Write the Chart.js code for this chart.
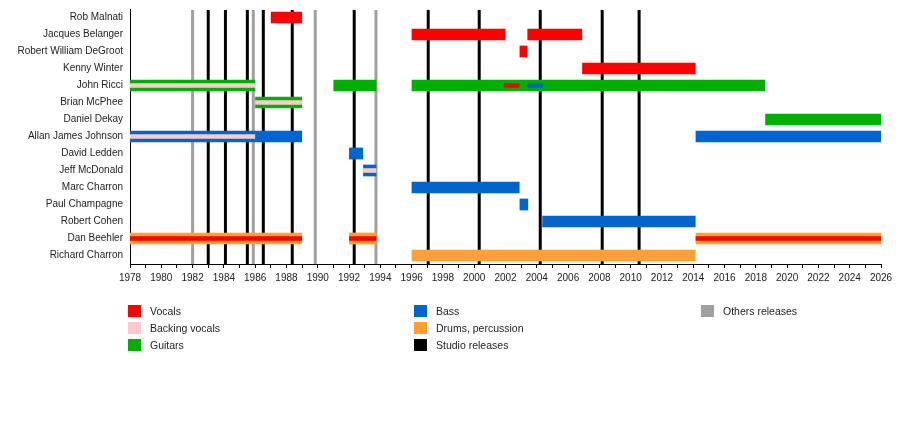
<!DOCTYPE html>
<html>
<head>
<meta charset="utf-8">
<script src="https://cdn.jsdelivr.net/npm/chart.js@4"></script>
<style>
body{margin:0;background:#fff;font-family:"Liberation Sans",Arial,sans-serif;}
#wrap{position:relative;width:900px;height:432px;}
.lg{position:absolute;font-size:10.5px;color:#222;line-height:12px;}
.lg span{position:absolute;left:0;top:0;width:13px;height:12px;}
.lg b{position:absolute;top:0;font-weight:normal;white-space:nowrap;}
</style>
</head>
<body>
<div id="wrap">
<canvas id="timeline"></canvas>
<div id="legend"></div>
</div>
<script>

/* DATA */

const members=["Rob Malnati","Jacques Belanger","Robert William DeGroot","Kenny Winter","John Ricci","Brian McPhee","Daniel Dekay","Allan James Johnson","David Ledden","Jeff McDonald","Marc Charron","Paul Champagne","Robert Cohen","Dan Beehler","Richard Charron"];

const vocals=[
["Rob Malnati",1987,1989],
["Jacques Belanger",1996,2002],
["Jacques Belanger",2003.4,2006.9],
["Robert William DeGroot",2002.9,2003.4],
["Kenny Winter",2006.9,2014.15]
];

const guitars=[
["John Ricci",1978,1986],
["John Ricci",1991,1993.75],
["John Ricci",1996,2018.6],
["Brian McPhee",1986,1989],
["Daniel Dekay",2018.6,2026]
];

const bass=[
["Allan James Johnson",1978,1989],
["Allan James Johnson",2014.15,2026],
["David Ledden",1992,1992.9],
["Jeff McDonald",1992.9,1993.75],
["Marc Charron",1996,2002.9],
["Paul Champagne",2002.9,2003.45],
["Robert Cohen",2004.35,2014.15]
];

const drums=[
["Dan Beehler",1978,1989],
["Dan Beehler",1992,1993.75],
["Dan Beehler",2014.15,2026],
["Richard Charron",1996,2014.15]
];

/* thin stripes for second roles */
const backingStripe=[
["John Ricci",1978,1986],
["Brian McPhee",1986,1989],
["Allan James Johnson",1978,1986],
["Jeff McDonald",1992.9,1993.75]
];
const vocalStripe=[
["Dan Beehler",1978,1989],
["Dan Beehler",1992,1993.75],
["Dan Beehler",2014.15,2026],
["John Ricci",2001.9,2002.9]
];
const bassStripe=[
["John Ricci",2003.4,2004.4]
];

const studioReleases=[1983.0,1984.1,1985.5,1986.52,1988.37,1992.33,1997.06,2000.32,2004.22,2008.18,2010.54];
const otherReleases=[1982.0,1985.88,1989.84,1993.72];

const yearMin=1978, yearMax=2026, labelStep=2;

const legendItems=[
["Vocals","#ff0000"],["Backing vocals","#fccaca"],["Guitars","#00b000"],
["Bass","#0066cc"],["Drums, percussion","#ffa033"],["Studio releases","#000000"],
["Others releases","#a0a0a0"]
];


/* HELPERS */

const toPoints=rows=>rows.map(r=>({y:r[0],x:[r[1],r[2]]}));

const bar=(label,rows,color,thick)=>({
label:label,
data:toPoints(rows),
backgroundColor:color,
borderWidth:0,
grouped:false,
categoryPercentage:1,
barPercentage:thick?0.69:0.27,
order:thick?2:1
});


/* RELEASE LINES (behind bars) */

const releaseLines={
id:"releaseLines",
beforeDatasetsDraw(chart){
const {ctx,chartArea,scales}=chart;
const x=scales.x;
ctx.save();
ctx.lineWidth=3;
const draw=(years,color)=>{
ctx.strokeStyle=color;
years.forEach(yr=>{
const px=x.getPixelForValue(yr);
ctx.beginPath();
ctx.moveTo(px,chartArea.top+1);
ctx.lineTo(px,chartArea.bottom);
ctx.stroke();
});
};
draw(otherReleases,"#a0a0a0");
draw(studioReleases,"#000000");
ctx.restore();
}
};


/* CHART */

const chart=new Chart(document.getElementById("timeline"),{

type:"bar",

data:{
labels:members,
datasets:[
bar("Vocals",vocalStripe,"#ff0000",false),
bar("Backing vocals",backingStripe,"#fccaca",false),
bar("Bass",bassStripe,"#0066cc",false),
bar("Vocals",vocals,"#ff0000",true),
bar("Guitars",guitars,"#00b000",true),
bar("Bass",bass,"#0066cc",true),
bar("Drums, percussion",drums,"#ffa033",true)
]
},

options:{
indexAxis:"y",
responsive:true,
maintainAspectRatio:false,
animation:false,
layout:{padding:{left:0,right:19,top:9,bottom:148}},
plugins:{legend:{display:false},tooltip:{enabled:false}},
scales:{
x:{
type:"linear",
min:yearMin,
max:yearMax,
afterFit(s){s.height=20;},
border:{display:true,color:"#000",width:1},
grid:{display:true,drawOnChartArea:false,drawTicks:true,tickLength:4,color:"#000"},
ticks:{
stepSize:1,
autoSkip:false,
maxRotation:0,
padding:4,
color:"#222",
font:{family:"Liberation Sans",size:10},
callback:v=>(v-yearMin)%labelStep===0?String(v):""
}
},
y:{
type:"category",
afterFit(s){s.width=130;s.paddingTop=0;s.paddingBottom=0;},
border:{display:true,color:"#000",width:1},
grid:{display:false,drawTicks:false},
ticks:{
padding:7,
color:"#222",
font:{family:"Liberation Sans",size:10}
}
}
}
},

plugins:[releaseLines]

});


/* LEGEND */

const legendBox=document.getElementById("legend");
const colX=[128,414,701], rowY=[305,322,339];
legendItems.forEach((item,i)=>{
const col=Math.floor(i/3), row=i%3;
const d=document.createElement("div");
d.className="lg";
d.style.left=colX[col]+"px";
d.style.top=rowY[row]+"px";
d.innerHTML='<span style="background:'+item[1]+'"></span><b style="left:22px">'+item[0]+'</b>';
legendBox.appendChild(d);
});

</script>
</body>
</html>
